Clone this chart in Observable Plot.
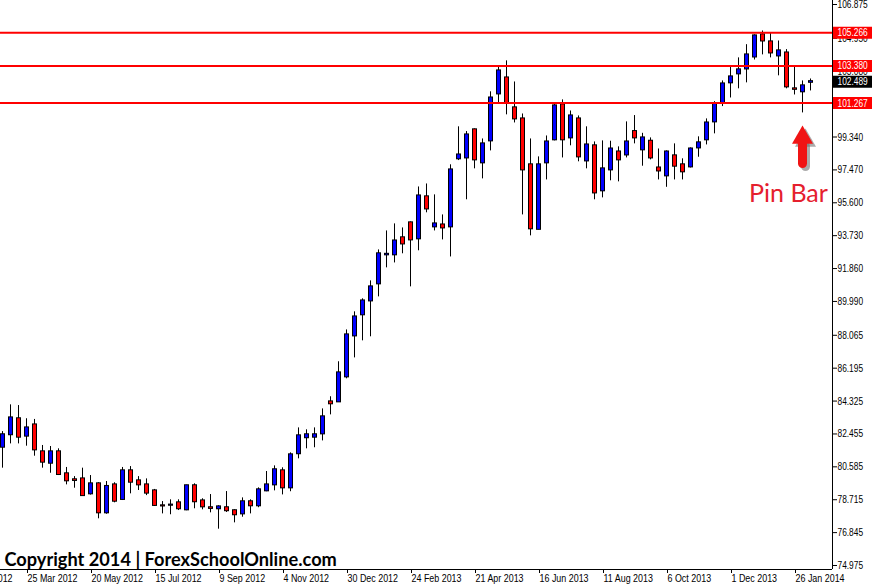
<!DOCTYPE html>
<html>
<head>
<meta charset="utf-8">
<script src="https://cdn.jsdelivr.net/npm/d3@7"></script>
<script src="https://cdn.jsdelivr.net/npm/@observablehq/plot@0.6"></script>
<style>
  html, body { margin: 0; padding: 0; background: #fff; }
  svg { display: block; }
</style>
</head>
<body>
<div id="chart"></div>
<script>
// Weekly USDJPY candles, first week starting 4 Mar 2012
const firstWeek = "2012-03-04";
const opens  = [81.70,82.41,83.32,82.33,82.97,81.44,80.79,81.44,80.19,79.85,79.90,79.05,79.62,77.97,79.56,78.73,80.36,79.79,79.56,79.22,
                78.37,78.40,78.54,78.14,79.51,78.65,78.26,78.20,78.26,78.09,77.91,78.60,78.37,79.22,79.56,80.36,79.39,81.33,82.24,82.27,
                82.46,84.28,84.28,85.70,88.03,89.23,90.02,90.99,92.64,92.64,93.61,94.46,93.55,95.94,94.23,94.34,94.23,98.10,98.15,99.75,
                97.87,99.12,101.79,102.70,101.00,100.37,97.76,94.09,97.87,99.18,101.17,99.29,100.37,97.98,98.84,96.28,97.47,98.49,98.32,99.65,
                98.61,99.10,97.58,97.13,98.27,97.76,97.64,98.72,99.18,100.20,101.30,102.42,102.93,103.21,103.89,105.15,104.75,103.95,104.12,102.08,
                101.91,102.45];
const highs  = [82.59,84.11,84.07,83.32,83.28,81.80,81.74,81.61,80.55,80.03,80.51,80.09,79.68,79.75,79.68,80.55,80.60,80.03,79.90,79.30,
                78.61,78.71,78.71,79.54,79.62,78.77,79.01,78.37,79.18,78.14,78.82,78.71,79.39,80.32,80.64,80.53,81.38,82.80,82.69,82.80,
                83.88,84.57,86.56,88.37,89.40,90.14,91.16,92.92,94.00,94.40,94.17,94.51,96.50,96.67,96.05,94.91,97.76,99.92,99.65,99.80,
                99.23,101.91,103.30,103.67,102.47,100.65,99.23,98.21,99.40,101.22,101.45,100.82,100.54,99.92,99.06,99.12,99.10,98.78,100.20,100.56,
                99.55,99.29,98.66,98.55,98.95,98.10,98.72,99.35,100.37,101.35,102.53,103.33,103.84,104.59,105.15,105.37,105.26,104.80,104.31,103.38,
                102.53,102.64];
const lows   = [80.51,81.89,81.89,81.76,81.19,80.51,80.22,80.09,79.56,79.37,78.90,78.98,77.63,77.89,78.54,78.67,79.05,79.24,78.95,78.33,
                77.91,77.86,78.10,78.09,78.20,78.14,77.97,77.04,77.99,77.40,77.72,77.91,78.26,79.17,79.22,78.99,79.17,81.04,81.61,81.67,
                82.06,83.54,84.25,85.59,86.78,87.75,87.98,90.25,91.90,92.18,92.70,90.82,92.87,95.03,94.00,93.49,92.52,98.00,95.77,97.53,
                96.96,98.55,101.28,100.60,100.14,94.91,93.72,94.06,96.90,99.12,98.15,98.84,97.93,97.53,95.77,95.88,96.85,96.79,98.15,98.95,
                97.68,98.04,96.90,96.48,96.90,96.90,97.58,98.19,98.89,99.52,101.07,101.56,102.08,102.42,103.72,104.01,103.84,102.82,102.08,101.73,
                100.71,101.96];
const closes = [82.41,83.37,82.27,82.80,81.55,80.85,81.44,80.15,79.79,79.81,78.95,79.62,77.97,79.47,78.63,80.36,79.71,79.56,79.09,78.39,
                78.36,78.41,78.20,79.51,78.60,78.31,78.22,78.31,78.09,77.86,78.60,78.37,79.28,79.56,80.42,79.39,81.27,82.35,82.41,82.41,
                83.43,84.17,85.93,88.09,89.11,90.02,90.82,92.70,92.67,93.43,93.26,93.49,95.99,95.25,94.40,94.17,97.47,98.32,99.46,98.04,
                98.95,101.56,103.10,101.28,100.37,97.47,94.12,97.76,99.06,101.11,99.18,100.54,98.21,98.89,96.16,97.53,98.66,98.04,99.06,99.29,
                99.29,98.15,97.41,98.49,97.68,97.36,98.66,99.01,100.14,101.22,102.36,102.76,103.16,104.01,105.09,104.80,104.12,104.24,102.19,102.05,
                102.25,102.489];

// Horizontal levels and current price
const levels = [105.266, 103.380, 101.267];
const currentPrice = [102.489];

// Axis tick labels
const yTicks = [74.975, 76.845, 78.715, 80.585, 82.455, 84.325, 86.195, 88.065, 89.990, 91.860,
                93.730, 95.600, 97.470, 99.340, 101.210, 103.080, 104.950, 106.875];
const xTickLabels = ["29 Jan 2012", "25 Mar 2012", "20 May 2012", "15 Jul 2012", "9 Sep 2012", "4 Nov 2012",
                     "30 Dec 2012", "24 Feb 2013", "21 Apr 2013", "16 Jun 2013", "11 Aug 2013", "6 Oct 2013",
                     "1 Dec 2013", "26 Jan 2014"];

// Annotation (pin bar week = index 100)
const pinIndex = 100;
const arrowPrices = {tipCentroid: 99.30, shaftTop: 98.95, shaftBottom: 97.80};
const pinLabel = {text: "Pin Bar", price: 96.12};
const copyright = "Copyright 2014 | ForexSchoolOnline.com";

const DAY = 864e5;
const start = d3.utcParse("%Y-%m-%d")(firstWeek);
const weeks = opens.map((_, i) => d3.utcWeek.offset(start, i));
const xStart = new Date(start.getTime() - 1.75 * DAY);
const xEnd = d3.utcWeek.offset(xStart, 104);
const parseTick = d3.utcParse("%d %b %Y");
const tickDates = xTickLabels.map(s => parseTick(s));
const fmtTick = d3.utcFormat("%-d %b %Y");
const fmtPrice = d3.format(".3f");

const candles = weeks.map((d, i) => ({date: d, o: opens[i], h: highs[i], l: lows[i], c: closes[i]}));
const pinDate = weeks[pinIndex];
const boxValues = levels.concat(currentPrice);

const axisFont = "'Liberation Sans', 'DejaVu Sans', sans-serif";

const chart = Plot.plot({
  width: 874,
  height: 587,
  marginLeft: 0,
  marginRight: 42,
  marginTop: 0,
  marginBottom: 18,
  style: {fontFamily: axisFont, fontSize: "11px", background: "#fff", color: "#000"},
  x: {type: "utc", domain: [xStart, xEnd]},
  y: {domain: [74.7475, 107.1025]},
  marks: [
    Plot.axisY(yTicks, {anchor: "right", tickSize: 4, tickPadding: 1, tickFormat: fmtPrice, label: null}),
    Plot.axisX(tickDates, {anchor: "bottom", tickSize: 4, tickPadding: 1, tickFormat: fmtTick, textAnchor: "start", dx: 1, label: null}),
    Plot.ruleX([xEnd], {stroke: "#000"}),
    Plot.ruleY([74.7475], {stroke: "#000"}),
    // wicks
    Plot.ruleX(candles, {x: "date", y1: "l", y2: "h", stroke: "#000", strokeWidth: 1}),
    // body outline
    Plot.ruleX(candles, {x: "date", y1: d => Math.max(d.o, d.c), y2: d => Math.min(d.o, d.c),
      stroke: "#000", strokeWidth: 5, insetTop: -1, insetBottom: -1}),
    // body fill
    Plot.ruleX(candles, {x: "date", y1: d => Math.max(d.o, d.c), y2: d => Math.min(d.o, d.c),
      stroke: d => d.c >= d.o ? "#0000ff" : "#ff0000", strokeWidth: 3}),
    // horizontal levels
    Plot.ruleY(levels, {stroke: "#ff0000", strokeWidth: 2}),
    // price boxes on the right axis
    Plot.ruleY(levels, {x1: () => xEnd, x2: () => xEnd, insetLeft: 1, insetRight: -40, stroke: "#ff0000", strokeWidth: 12}),
    Plot.ruleY(currentPrice, {x1: () => xEnd, x2: () => xEnd, insetLeft: 1, insetRight: -40, stroke: "#000", strokeWidth: 12}),
    Plot.text(boxValues, {x: () => xEnd, y: d => d, text: d => fmtPrice(d),
      textAnchor: "start", dx: 5, fill: "#fff"}),
    // arrow shadow
    Plot.ruleX([pinDate], {y1: arrowPrices.shaftTop, y2: arrowPrices.shaftBottom, stroke: "#666", strokeOpacity: 0.55,
      strokeWidth: 9, strokeLinecap: "round", dx: 3, dy: 3}),
    Plot.dot([pinDate], {x: d => d, y: () => arrowPrices.tipCentroid, symbol: "triangle", r: 7.8, fill: "#666",
      fillOpacity: 0.55, stroke: null, dx: 3, dy: 3}),
    // arrow
    Plot.ruleX([pinDate], {y1: arrowPrices.shaftTop, y2: arrowPrices.shaftBottom, stroke: "#f01414",
      strokeWidth: 9, strokeLinecap: "round"}),
    Plot.dot([pinDate], {x: d => d, y: () => arrowPrices.tipCentroid, symbol: "triangle", r: 7.8, fill: "#f01414", stroke: null}),
    // labels
    Plot.text([pinLabel], {x: () => pinDate, y: "price", text: "text", dx: -14, textAnchor: "middle",
      fill: "#e5202e", fontSize: 25, fontFamily: "Lato, 'Open Sans', sans-serif"}),
    Plot.text([copyright], {frameAnchor: "bottom-left", textAnchor: "start", lineAnchor: "bottom", dx: 4, dy: -4,
      fill: "#000", fontSize: 18.2, fontWeight: "bold", fontFamily: "Lato, 'Open Sans', sans-serif"})
  ]
});

document.getElementById("chart").appendChild(chart);

// Condense the axis lettering (the original uses a narrow Tahoma-like face)
function squeezeEl(t, ratio) {
  const w = t.getComputedTextLength();
  if (w > 0) {
    t.setAttribute("textLength", (w * ratio).toFixed(2));
    t.setAttribute("lengthAdjust", "spacingAndGlyphs");
  }
}
chart.querySelectorAll('g[aria-label="x-axis tick label"] text').forEach(t => squeezeEl(t, 0.81));
chart.querySelectorAll('g[aria-label="y-axis tick label"] text').forEach(t => squeezeEl(t, 0.76));
const boxTexts = new Set(boxValues.map(fmtPrice));
chart.querySelectorAll('text').forEach(t => {
  if (boxTexts.has(t.textContent) && !t.closest('g[aria-label="y-axis tick label"]')) squeezeEl(t, 0.76);
});
</script>
</body>
</html>
